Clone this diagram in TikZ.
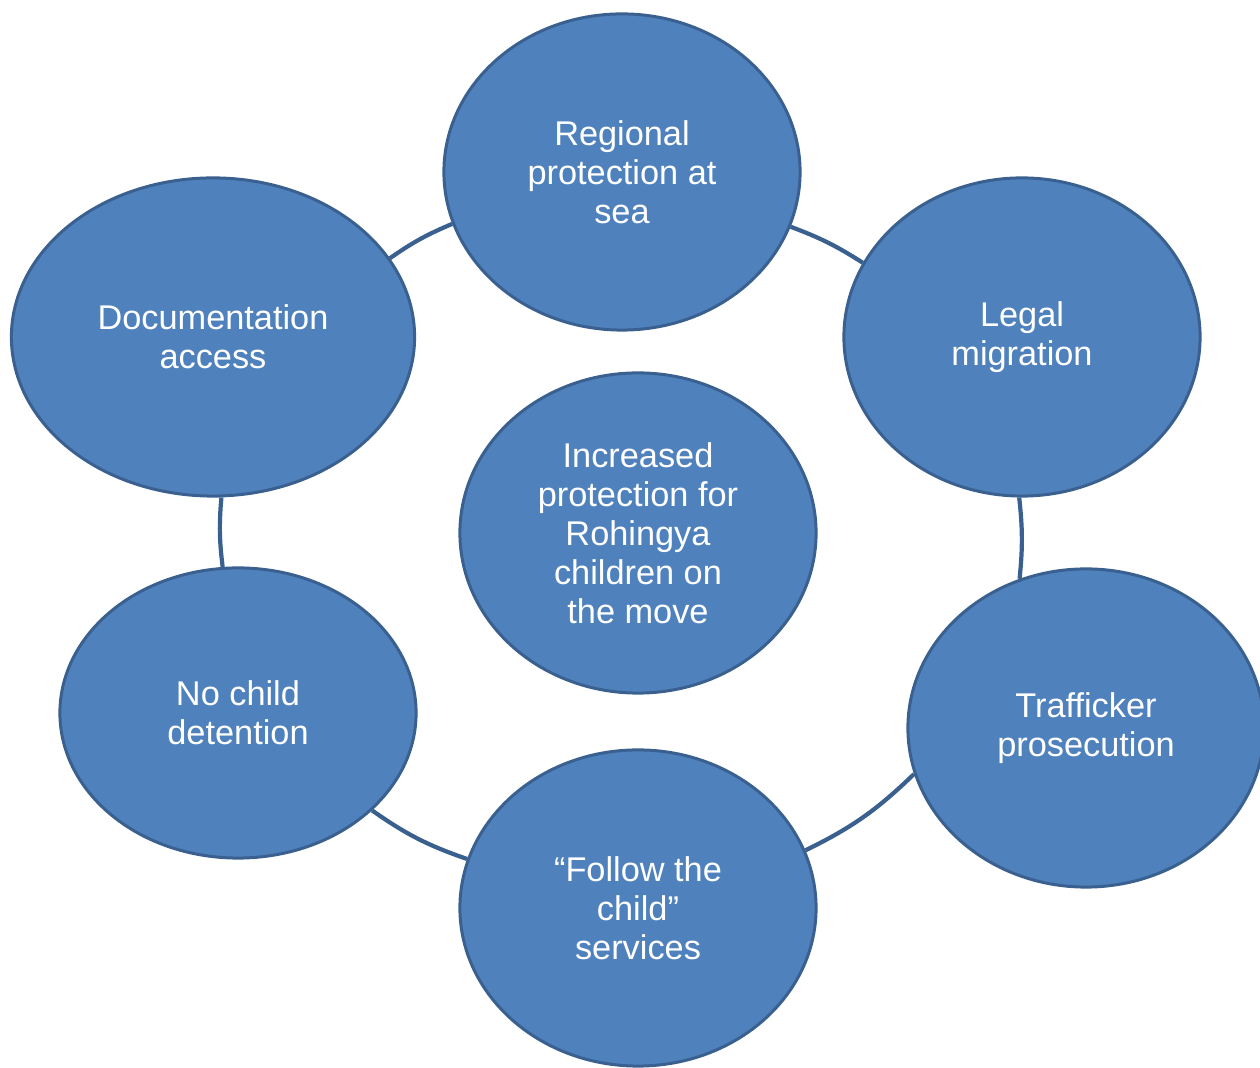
\documentclass[tikz,border=0pt]{standalone}
\usepackage{fontspec}
\setmainfont{Liberation Sans}
\usetikzlibrary{shapes.geometric}
\definecolor{goalfill}{RGB}{79,129,189}
\definecolor{goalline}{RGB}{58,96,143}
\begin{document}
\begin{tikzpicture}[x=0.01cm,y=-0.01cm,
    goal/.style={ellipse,draw=goalline,line width=0.85pt,fill=goalfill,
        text=white,align=center,inner sep=0pt,
        font=\fontsize{9.76}{11.1}\selectfont},
    ring/.style={draw=goalline,line width=1.2pt}]
    \useasboundingbox (0,0) rectangle (1260,1068);
    % circles
    \node[goal,minimum width=3.56cm,minimum height=3.16cm] (sea) at (622,172) {Regional\\protection at\\sea};
    \node[goal,minimum width=4.03cm,minimum height=3.18cm] (docs) at (213,337) {Documentation\\access};
    \node[goal,minimum width=3.56cm,minimum height=3.18cm] (legal) at (1022,337) {Legal\\migration};
    \node[goal,minimum width=3.56cm,minimum height=3.2cm] (goal) at (638,533) {Increased\\protection for\\Rohingya\\children on\\the move};
    \node[goal,minimum width=3.56cm,minimum height=2.9cm] (detain) at (238,713) {No child\\detention};
    \node[goal,minimum width=3.56cm,minimum height=3.18cm] (traffic) at (1086,728) {Trafficker\\prosecution};
    \node[goal,minimum width=3.56cm,minimum height=3.16cm] (follow) at (638,908) {“Follow the\\child”\\services};
    % ring
    \draw[ring] (sea.342.5) to[bend left=6] (legal.155);
    \draw[ring] (legal.269.3) to[bend left=6] (traffic.114);
    \draw[ring] (traffic.195.5) to[bend left=9] (follow.19.8);
    \draw[ring] (follow.164.2) to[bend left=8] (detain.-36.5);
    \draw[ring] (detain.96.3) to[bend left=6] (docs.273);
    \draw[ring] (docs.24.3) to[bend left=6] (sea.197.4);
\end{tikzpicture}
\end{document}
